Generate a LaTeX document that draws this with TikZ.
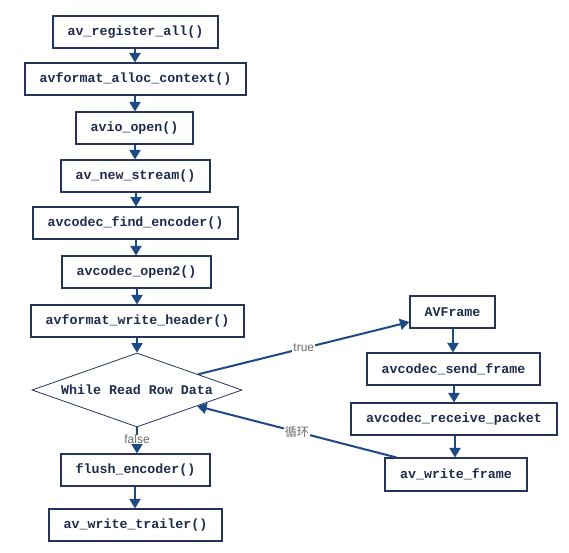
\documentclass[tikz,border=0pt]{standalone}
\usepackage{fontspec}
\setmainfont{Liberation Sans}
\setmonofont{Liberation Mono}
\newfontfamily\cjk{Noto Sans CJK SC}
\usetikzlibrary{shapes.geometric,arrows.meta,calc}
\definecolor{boxline}{HTML}{27345A}
\definecolor{boxtext}{HTML}{1F2B4D}
\definecolor{arrowc}{HTML}{1B4A86}
\definecolor{labc}{HTML}{6B6B6B}
\tikzset{
  fbox/.style={draw=boxline, line width=1.1pt, fill=white, minimum height=32pt, inner sep=0pt,
    text=boxtext, font=\fontsize{13.3}{15}\selectfont\ttfamily\bfseries},
  cond/.style={draw=boxline, line width=0.8pt, diamond, shape aspect=2.84, minimum width=210pt,
    minimum height=74pt, inner sep=0pt, text=boxtext, font=\fontsize{13.3}{15}\selectfont\ttfamily\bfseries},
  flow/.style={draw=arrowc, line width=2pt, -{Triangle[length=9.5pt,width=11pt]}},
  lab/.style={fill=white, inner sep=1pt, text=labc, font=\fontsize{12}{14}\selectfont}
}
\begin{document}
\begin{tikzpicture}[x=1pt,y=-1pt]
\useasboundingbox (0,0) rectangle (569,552);
\fill[white] (0,0) rectangle (569,552);
\node[fbox, minimum width=165pt] (b1) at (135.5,32) {av\_register\_all()};
\node[fbox, minimum width=221pt] (b2) at (135.5,79) {avformat\_alloc\_context()};
\node[fbox, minimum width=117pt] (b3) at (134.5,128) {avio\_open()};
\node[fbox, minimum width=149pt] (b4) at (135.5,176) {av\_new\_stream()};
\node[fbox, minimum width=205pt] (b5) at (135.5,223) {avcodec\_find\_encoder()};
\node[fbox, minimum width=149pt] (b6) at (136.5,272) {avcodec\_open2()};
\node[fbox, minimum width=213pt] (b7) at (137.5,321) {avformat\_write\_header()};
\node[cond] (d) at (137,390) {While Read Row Data};
\node[fbox, minimum width=149pt] (fe) at (135.5,470) {flush\_encoder()};
\node[fbox, minimum width=173pt] (wt) at (135.5,525) {av\_write\_trailer()};
\node[fbox, minimum width=85pt] (af) at (452.5,312) {AVFrame};
\node[fbox, minimum width=173pt] (sf) at (453.5,369) {avcodec\_send\_frame};
\node[fbox, minimum width=206pt] (rp) at (454,419) {avcodec\_receive\_packet};
\node[fbox, minimum width=142pt, minimum height=33pt] (wf) at (456,474.5) {av\_write\_frame};

\draw[flow] (b1.south -| 135,0) -- (b2.north -| 135,0);
\draw[flow] (b2.south -| 135,0) -- (b3.north -| 135,0);
\draw[flow] (b3.south -| 135,0) -- (b4.north -| 135,0);
\draw[flow] (b4.south -| 136,0) -- (b5.north -| 136,0);
\draw[flow] (b5.south -| 136,0) -- (b6.north -| 136,0);
\draw[flow] (b6.south -| 137,0) -- (b7.north -| 137,0);
\draw[flow] (b7.south -| 137,0) -- (d.north);
\draw[flow] (d.south) -- (fe.north -| d.south);
\node[lab, inner sep=0.3pt] (fl) at (137,439.5) {false};
\draw[flow] (fe.south -| 135,0) -- (wt.north -| 135,0);

\draw[flow] (af.south -| 453,0) -- (sf.north -| 453,0);
\draw[flow] (sf.south -| 454,0) -- (rp.north -| 454,0);
\draw[flow] (rp.south -| 455,0) -- (wf.north -| 455,0);

\draw[flow] ($(d.north)!0.58!(d.east)$) -- node[lab, pos=0.5] {true} ([yshift=-10pt]af.west);
\draw[flow] ([xshift=12pt]wf.north west) -- node[lab, pos=0.5] {\cjk 循环} ($(d.east)!0.43!(d.south)$);
\end{tikzpicture}
\end{document}
